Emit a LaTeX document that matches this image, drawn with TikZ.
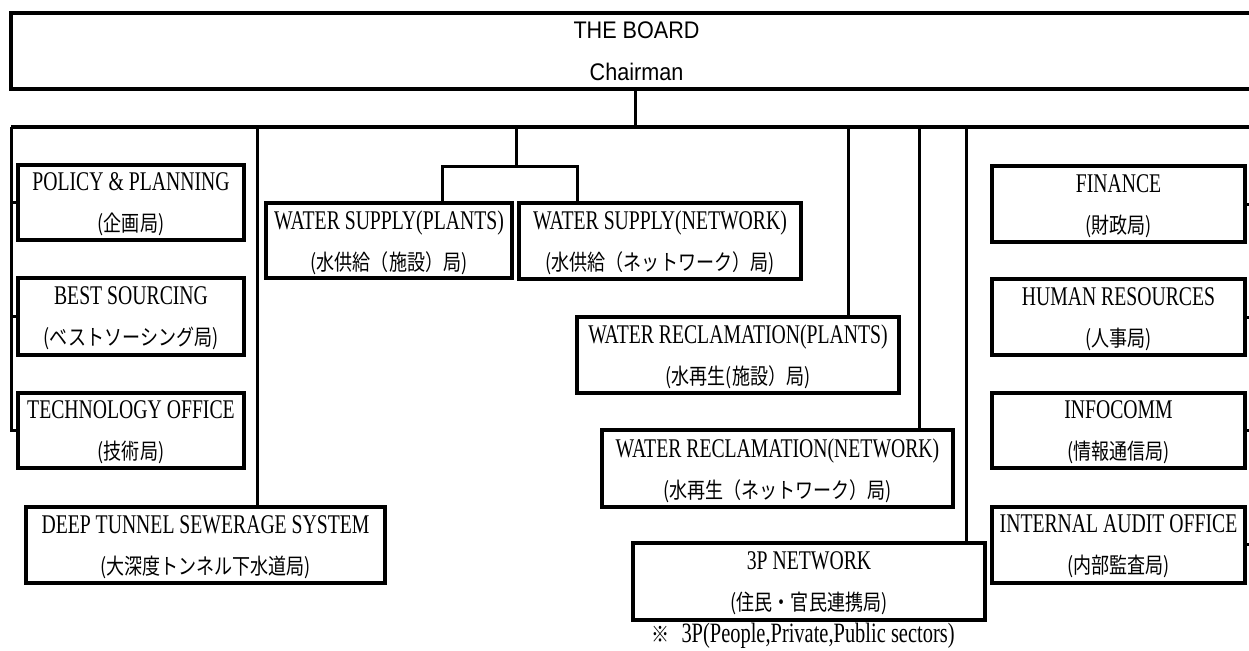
\documentclass[tikz,border=0pt]{standalone}
\usepackage{fontspec}
\setmainfont{Liberation Serif}[FakeStretch=0.73]
\newfontfamily\jpfont{Noto Sans CJK JP}[FakeStretch=0.82]
\newfontfamily\boardfont{Liberation Sans}[FakeStretch=0.9]
\newcommand{\jtxt}[1]{{\jpfont\fontsize{22}{39}\selectfont #1}}
\begin{document}
\begin{tikzpicture}[x=1pt,y=-1pt,
  unitbox/.style={draw, line width=4pt, align=center, inner sep=0pt,
    text depth=-3pt, font=\fontsize{27}{41}\selectfont},
  link/.style={line width=3pt}]
\useasboundingbox (0,0) rectangle (1249,650);
\clip (0,0) rectangle (1249,650);

% board
\node[draw, line width=4pt, minimum width=1251pt, minimum height=76pt, align=center,
  inner sep=0pt, font=\boardfont\fontsize{24}{42}\selectfont]
  (board) at (636.5,51) {THE BOARD\\Chairman};

% left column
\node[unitbox, minimum width=226pt, minimum height=75pt] (pol) at (131,202.5)
  {POLICY \& PLANNING\\\jtxt{(企画局)}};
\node[unitbox, minimum width=226pt, minimum height=77pt] (bs) at (131,316.5)
  {BEST SOURCING\\\jtxt{(ベストソーシング局)}};
\node[unitbox, minimum width=226pt, minimum height=75pt] (tech) at (131,430.5)
  {TECHNOLOGY OFFICE\\\jtxt{(技術局)}};
\node[unitbox, minimum width=359pt, minimum height=76pt] (dtss) at (205.5,545)
  {DEEP TUNNEL SEWERAGE SYSTEM\\\jtxt{(大深度トンネル下水道局)}};

% water supply
\node[unitbox, minimum width=246pt, minimum height=75pt] (wsp) at (389,240.5)
  {WATER SUPPLY(PLANTS)\\\jtxt{(水供給（施設）局)}};
\node[unitbox, minimum width=282pt, minimum height=76pt] (wsn) at (660,241)
  {WATER SUPPLY(NETWORK)\\\jtxt{(水供給（ネットワーク）局)}};

% water reclamation and 3P
\node[unitbox, minimum width=322pt, minimum height=76pt] (wrp) at (738,355)
  {WATER RECLAMATION(PLANTS)\\\jtxt{(水再生(施設）局)}};
\node[unitbox, minimum width=351pt, minimum height=77pt] (wrn) at (777.5,468.5)
  {WATER RECLAMATION(NETWORK)\\\jtxt{(水再生（ネットワーク）局)}};
\node[unitbox, minimum width=352pt, minimum height=77pt] (tp) at (809,581.5)
  {3P NETWORK\\\jtxt{(住民・官民連携局)}};
\node[font=\fontsize{28}{30}\selectfont, inner sep=0pt] (note) at (803,636)
  {\jtxt{※}\hspace{12pt}3P(People,Private,Public sectors)};

% right column
\node[unitbox, minimum width=253pt, minimum height=76pt] (fin) at (1118.5,204)
  {FINANCE\\\jtxt{(財政局)}};
\node[unitbox, minimum width=253pt, minimum height=76pt] (hr) at (1118.5,317)
  {HUMAN RESOURCES\\\jtxt{(人事局)}};
\node[unitbox, minimum width=253pt, minimum height=75pt] (info) at (1118.5,430.5)
  {INFOCOMM\\\jtxt{(情報通信局)}};
\node[unitbox, minimum width=253pt, minimum height=76pt] (ia) at (1118.5,544.5)
  {INTERNAL AUDIT OFFICE\\\jtxt{(内部監査局)}};

% junction points on the main bus
\coordinate (top) at (635,127);
\coordinate (busL) at (11,127);
\coordinate (busR) at (1252,127);
\coordinate (dj) at (257,127);
\coordinate (wsj) at (516,127);
\coordinate (wsm) at (516,166);
\coordinate (wsa) at (442,166);
\coordinate (wsb) at (577,166);
\coordinate (r1) at (848,127);
\coordinate (r2) at (919,127);
\coordinate (r3) at (966,127);

% connectors
\draw[link] (board.south -| top) -- (top);
\draw[link] (busL) -- (busR);
\draw[link] (busL) |- (tech.west);
\draw[link] (busL |- pol.west) -- (pol.west);
\draw[link] (busL |- bs.west) -- (bs.west);
\draw[link] (dj) -- (dj |- dtss.north);
\draw[link] (wsj) -- (wsm);
\draw[link] (wsp.north -| wsa) |- (wsb) -- (wsb |- wsn.north);
\draw[link] (r1) -- (r1 |- wrp.north);
\draw[link] (r2) -- (r2 |- wrn.north);
\draw[link] (r3) -- (r3 |- tp.north);
\draw[link] (busR) |- (ia.east);
\draw[link] (busR |- fin.east) -- (fin.east);
\draw[link] (busR |- hr.east) -- (hr.east);
\draw[link] (busR |- info.east) -- (info.east);
\end{tikzpicture}
\end{document}
